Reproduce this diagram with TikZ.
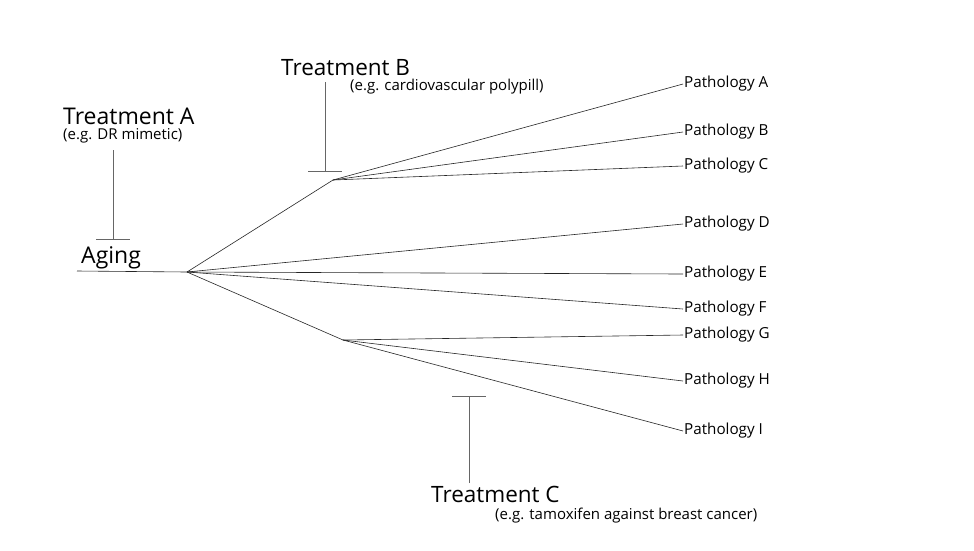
\documentclass[tikz,border=0pt]{standalone}
\usepackage{fontspec}
\setmainfont{Open Sans}
\begin{document}
\begin{tikzpicture}[x=1pt,y=-1pt,
  lbl/.style={anchor=west,inner sep=1pt,font=\fontsize{15.2}{17}\selectfont},
  big/.style={anchor=base west,inner sep=0pt,font=\fontsize{23}{26}\selectfont},
  mid/.style={anchor=base west,inner sep=0pt,font=\fontsize{22.5}{26}\selectfont},
  small/.style={anchor=base west,inner sep=0pt,font=\fontsize{15}{17}\selectfont},
  edge/.style={draw=black!85,line width=0.6pt},
  inhib/.style={draw=black!60,line width=0.8pt}]
\useasboundingbox (0,0) rectangle (974,550);
\fill[white] (0,0) rectangle (974,550);
% labels
\node[lbl] (pa) at (683,84) {Pathology A};
\node[lbl] (pb) at (683,132) {Pathology B};
\node[lbl] (pc) at (683,166) {Pathology C};
\node[lbl] (pd) at (683,224) {Pathology D};
\node[lbl] (pe) at (683,274) {Pathology E};
\node[lbl] (pf) at (683,309) {Pathology F};
\node[lbl] (pg) at (683,335) {Pathology G};
\node[lbl] (ph) at (683,381) {Pathology H};
\node[lbl] (pi) at (683,431) {Pathology I};
\node[big] (ta) at (63,124) {Treatment A};
\node[small] (tae) at (63,139) {(e.g. DR mimetic)};
\node[mid] (tb) at (281,75) {Treatment B};
\node[small] (tbe) at (350,90) {(e.g. cardiovascular polypill)};
\node[mid] (tc) at (431,502) {Treatment C};
\node[small] (tce) at (495,519) {(e.g. tamoxifen against breast cancer)};
\node[big] (aging) at (81,263) {Aging};
% tree
\coordinate (start) at (77,271);
\coordinate (hub) at (187,272);
\coordinate (hubB) at (333,180);
\coordinate (hubG) at (343,340);
\draw[edge] (start) -- (hub);
\draw[edge] (hub) -- (hubB);
\draw[edge] (hub) -- (hubG);
\foreach \p in {pa,pb,pc} \draw[edge] (hubB) -- (\p.west);
\foreach \p in {pd,pe,pf} \draw[edge] (hub) -- (\p.west);
\foreach \p in {pg,ph,pi} \draw[edge] (hubG) -- (\p.west);
% inhibitors
\coordinate (a0) at (113,150); \coordinate (a1) at (113,239);
\coordinate (a1l) at (96,239); \coordinate (a1r) at (130,239);
\draw[inhib] (a0) -- (a1); \draw[inhib] (a1l) -- (a1r);
\coordinate (b0) at (325,82); \coordinate (b1) at (325,171);
\coordinate (b1l) at (308,171); \coordinate (b1r) at (342,171);
\draw[inhib] (b0) -- (b1); \draw[inhib] (b1l) -- (b1r);
\coordinate (c0) at (469,483); \coordinate (c1) at (469,396);
\coordinate (c1l) at (452,396); \coordinate (c1r) at (486,396);
\draw[inhib] (c0) -- (c1); \draw[inhib] (c1l) -- (c1r);
\end{tikzpicture}
\end{document}
